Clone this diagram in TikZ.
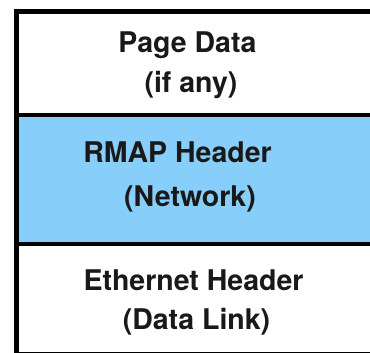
\documentclass[tikz,border=0pt]{standalone}
\usepackage{fontspec}
\setmainfont{TeX Gyre Heros}
\definecolor{netblue}{HTML}{87CEFA}
\begin{document}
\begin{tikzpicture}[x=1pt,y=-1pt,
  layertext/.style={anchor=base,inner sep=0pt,font=\fontsize{28.5}{34}\selectfont\bfseries,text=black!90},
  frame/.style={line width=5pt,draw=black},
  divider/.style={line width=4pt,draw=black}]
  \useasboundingbox (0,0) rectangle (370,353);
  % layer fills
  \fill[white] (16.5,12) rectangle (380,115);
  \fill[netblue] (16.5,115) rectangle (380,244);
  \fill[white] (16.5,244) rectangle (380,355);
  % frame: open to the right, bottom edge just past the page
  \draw[frame] (380,12) -- (16.5,12) -- (16.5,354.5) -- (380,354.5);
  \draw[divider] (16.5,115) -- (380,115);
  \draw[divider] (16.5,244) -- (380,244);
  % labels
  \node[layertext] (page)  at (187.5,53)  {Page Data};
  \node[layertext] (pageb) at (191,93)    {(if any)};
  \node[layertext] (rmap)  at (177.5,162) {RMAP Header};
  \node[layertext] (rmapb) at (190,206)   {(Network)};
  \node[layertext] (eth)   at (193.5,290) {Ethernet Header};
  \node[layertext] (ethb)  at (196.5,329) {(Data Link)};
\end{tikzpicture}
\end{document}
